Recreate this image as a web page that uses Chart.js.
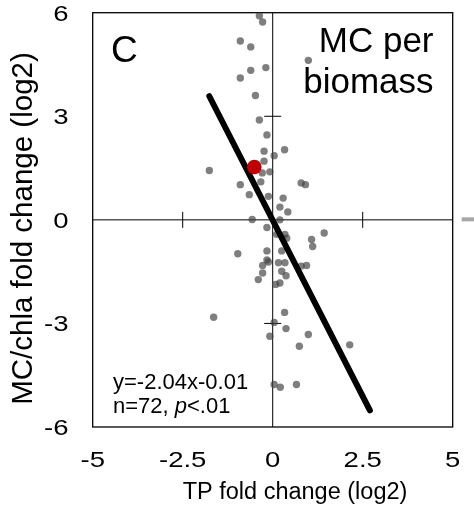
<!DOCTYPE html>
<html>
<head>
<meta charset="utf-8">
<script src="https://cdn.jsdelivr.net/npm/chart.js@4"></script>
<style>
  html, body { margin: 0; padding: 0; background: #fff; }
  #wrap { width: 474px; height: 519px; }
</style>
</head>
<body>
<div id="wrap"><canvas id="chart" width="474" height="519"></canvas></div>
<script>
/* values (log2 fold changes) */
const tpX = [-0.37, -0.28, -0.90, -0.61, 0.99, -0.19, -0.61, -0.90, -0.48, -0.37,
  -0.16, 0.33, -0.24, 0.04, -0.24, -1.76, -0.29, -0.08, -0.33, -0.90,
  0.79, 0.91, -0.65, -0.12, 0.29, 0.20, 0.42, -0.57, 0.20, -0.16,
  0.11, 0.34, 0.39, 1.08, 1.43, 1.11, -0.97, -0.16, 0.25, -0.16,
  -0.12, -0.28, 0.16, 0.34, 0.79, 0.94, -0.28, 0.25, 0.37, -0.40,
  0.20, 0.08, -1.64, 0.33, 0.04, 0.37, -0.08, 0.99, 0.74, 2.14,
  0.04, 0.21, 0.66];
const mcY = [5.91, 5.73, 5.18, 5.01, 4.62, 4.41, 4.33, 4.11, 3.60, 2.89,
  2.46, 2.03, 1.99, 1.86, 1.70, 1.43, 1.36, 1.39, 1.10, 1.02,
  1.07, 1.02, 0.73, 0.68, 0.63, 0.37, 0.23, 0.01, 0.00, -0.22,
  -0.42, -0.42, -0.53, -0.57, -0.38, -0.77, -0.98, -0.90, -0.90, -1.16,
  -1.22, -1.32, -1.24, -1.24, -1.34, -1.32, -1.54, -1.49, -1.62, -1.73,
  -1.83, -1.87, -2.82, -2.68, -2.97, -3.15, -3.37, -3.32, -3.66, -3.62,
  -4.77, -4.85, -4.77];
const highlightX = [-0.51];
const highlightY = [1.53];
const fitX = [-1.76, 2.70];
const fitY = [3.58, -5.52];
const xTicks = [-5, -2.5, 0, 2.5, 5];
const yTicks = [6, 3, 0, -3, -6];
const xInnerTicks = [-2.5, 2.5];
const yInnerTicks = [3, -3];

const FONT = "'Liberation Sans', Arial, sans-serif";

function toPoints(xs, ys) {
  return xs.map((v, i) => ({ x: v, y: ys[i] }));
}

/* tick labels in the original are drawn wider than normal */
function wideText(ctx, str, px, py, sx, align) {
  ctx.save();
  ctx.translate(px, py);
  ctx.scale(sx, 1);
  ctx.textAlign = align;
  ctx.fillText(str, 0, 0);
  ctx.restore();
}

const panelPlugin = {
  id: 'panel',
  beforeDatasetsDraw(chart) {
    const { ctx, chartArea: a, scales: { x, y } } = chart;
    const x0 = x.getPixelForValue(0);
    const y0 = y.getPixelForValue(0);
    ctx.save();
    ctx.strokeStyle = '#000';
    ctx.lineWidth = 1;
    ctx.beginPath();
    ctx.moveTo(a.left, y0); ctx.lineTo(a.right, y0);
    ctx.moveTo(x0, a.top); ctx.lineTo(x0, a.bottom);
    xInnerTicks.forEach(v => {
      const px = x.getPixelForValue(v);
      ctx.moveTo(px, y0 - 8); ctx.lineTo(px, y0 + 8);
    });
    yInnerTicks.forEach(v => {
      const py = y.getPixelForValue(v);
      ctx.moveTo(x0 - 8.5, py); ctx.lineTo(x0 + 8.5, py);
    });
    ctx.stroke();
    ctx.lineWidth = 1.3;
    ctx.strokeRect(a.left, a.top, a.right - a.left, a.bottom - a.top);
    // stub of the arrow from the next panel
    ctx.fillStyle = '#a6a6a6';
    ctx.fillRect(a.right + 9, y0 - 2.5, 13, 4);
    ctx.restore();
  },
  afterDraw(chart) {
    const { ctx, chartArea: a, scales: { x, y } } = chart;
    ctx.save();
    ctx.fillStyle = '#000';
    ctx.textBaseline = 'alphabetic';

    // tick labels
    ctx.font = '22px ' + FONT;
    xTicks.forEach(v => wideText(ctx, String(v), x.getPixelForValue(v), 467, 1.25, 'center'));
    yTicks.forEach(v => wideText(ctx, String(v), 68.5, y.getPixelForValue(v) + 8, 1.25, 'right'));

    // axis titles
    ctx.font = '23.5px ' + FONT;
    ctx.textAlign = 'center';
    ctx.fillText('TP fold change (log2)', 295, 499);
    ctx.save();
    ctx.translate(31.5, 228.5);
    ctx.rotate(-Math.PI / 2);
    ctx.font = '29.5px ' + FONT;
    ctx.fillText('MC/chla fold change (log2)', 0, 0);
    ctx.restore();

    // panel letter and label
    ctx.font = '37px ' + FONT;
    ctx.textAlign = 'left';
    ctx.fillText('C', 111, 61.7);
    ctx.font = '35px ' + FONT;
    ctx.textAlign = 'right';
    ctx.fillText('MC per', 433.5, 51.7);
    ctx.fillText('biomass', 433.5, 92.7);

    // regression text
    ctx.font = '22px ' + FONT;
    ctx.textAlign = 'left';
    ctx.fillText('y=-2.04x-0.01', 113, 388.5);
    let tx = 113;
    const parts = [['n=72, ', ''], ['p', 'italic '], ['<.01', '']];
    parts.forEach(([s, st]) => {
      ctx.font = st + '22px ' + FONT;
      ctx.fillText(s, tx, 412.7);
      tx += ctx.measureText(s).width;
    });
    ctx.restore();
  }
};

new Chart(document.getElementById('chart'), {
  type: 'scatter',
  data: {
    datasets: [
      {
        label: 'lakes',
        data: toPoints(tpX, mcY),
        backgroundColor: 'rgba(64, 64, 64, 0.67)',
        borderWidth: 0,
        pointRadius: 3.7,
        order: 3
      },
      {
        type: 'line',
        label: 'fit',
        data: toPoints(fitX, fitY),
        borderColor: '#000',
        borderWidth: 6,
        borderCapStyle: 'round',
        pointRadius: 0,
        fill: false,
        order: 2
      },
      {
        label: 'highlight',
        data: toPoints(highlightX, highlightY),
        backgroundColor: '#c00000',
        borderWidth: 0,
        pointRadius: 7.3,
        order: 1
      }
    ]
  },
  options: {
    responsive: false,
    animation: false,
    events: [],
    layout: { padding: { left: 92.7, right: 21.3, top: 12.7, bottom: 92 } },
    plugins: {
      legend: { display: false },
      tooltip: { enabled: false }
    },
    scales: {
      x: { type: 'linear', min: -5, max: 5, display: false },
      y: { type: 'linear', min: -6, max: 6, display: false }
    }
  },
  plugins: [panelPlugin]
});
</script>
</body>
</html>
